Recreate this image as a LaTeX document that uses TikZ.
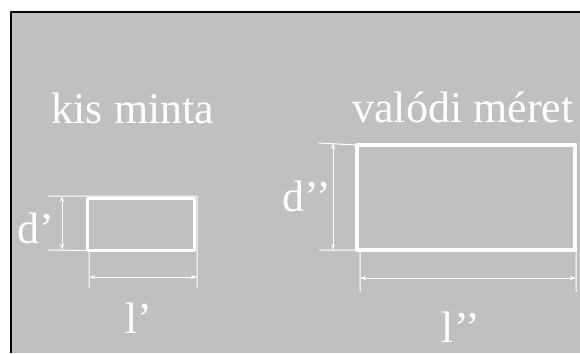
\documentclass[tikz,border=0pt]{standalone}
\usepackage{fontspec}
\setmainfont{Liberation Serif}
\usetikzlibrary{arrows.meta}
\definecolor{bg}{HTML}{C0C0C0}
\begin{document}
\begin{tikzpicture}[x=1pt, y=-1pt, line join=round, >={Stealth[length=6pt,width=4pt]}, white,
	lbl/.style={font=\fontsize{44}{48}\selectfont, inner sep=0pt, anchor=base},
	dim/.style={line width=1pt},
	box/.style={draw, line width=3pt, inner sep=0pt, outer sep=0pt}]
	\useasboundingbox (0,0) rectangle (580,353);
	\fill[bg] (11,12) rectangle (580,353);
	\draw[black, line width=1.5pt] (11,353)--(11,12)--(580,12);
	% small sample
	\node[lbl] (kis) at(133,123){kis minta};
	\node[box, minimum width=107, minimum height=52] (small) at(141,224.5){};
	\coordinate (sd1) at(48,196); \coordinate (sd2) at(48,250);
	\coordinate (sl1) at(89,288); \coordinate (sl2) at(197,288);
	\draw[dim] (sd1)--(sl2|-sd1)--(sl2) (sd2)--(small.south west) (sl1)--(sl1|-small.south);
	\draw[dim,<->] (62,196)--(62,250);
	\draw[dim,<->] (89,277)--(197,277);
	\node[lbl] (dk) at(36,243){d’};
	\node[lbl] (lk) at(139,333){l’};
	% real size
	\node[lbl] (val) at(463,122){valódi méret};
	\node[box, line width=4pt, minimum width=218, minimum height=105] (big) at(466,197.5){};
	\coordinate (bd1) at(319,143); \coordinate (bd2) at(319,250);
	\coordinate (bl1) at(360,292); \coordinate (bl2) at(576,292);
	\draw[dim] (bd1)--(big.north west) (bd2)--(big.south west)
		(bl1)--(bl1|-big.south) (bl2)--(bl2|-big.south);
	\draw[dim,<->] (333,143)--(333,250);
	\draw[dim,<->] (360,278)--(576,278);
	\node[lbl] (db) at(307,211){d’’};
	\node[lbl] (lb) at(461,342){l’’};
\end{tikzpicture}
\end{document}
